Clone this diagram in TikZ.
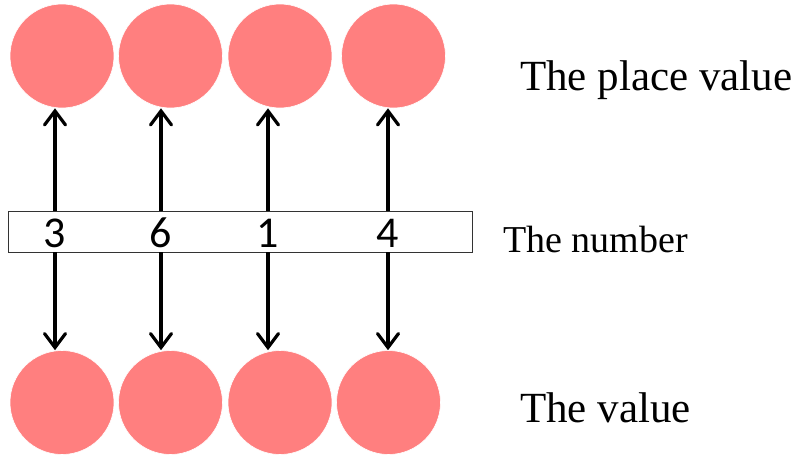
\documentclass[tikz,border=0pt]{standalone}
\usepackage{fontspec}
\setmainfont{Liberation Serif}
\newfontfamily\digitfont{Carlito}
\usetikzlibrary{arrows.meta}
\definecolor{ballred}{HTML}{FF7F7F}
\tikzset{
  ball/.style={circle, fill=ballred, draw=white, line width=0.6pt, minimum size=104pt, inner sep=0pt},
  digit/.style={font=\digitfont\fontsize{44}{44}\selectfont, inner sep=0pt},
  caption/.style={font=\fontsize{43}{43}\selectfont, anchor=base west, inner sep=0pt},
  link/.style={line width=3.2pt, -{Straight Barb[length=14pt, width=21pt, line cap=round]}}
}
\begin{document}
\begin{tikzpicture}[x=1pt, y=-1pt]
\useasboundingbox (0,0) rectangle (805,455);
% place value row
\node[ball] (t1) at (62,56) {};
\node[ball] (t2) at (170.5,56) {};
\node[ball] (t3) at (280,56) {};
\node[ball] (t4) at (393.5,56) {};
% value row
\node[ball] (b1) at (62,402.5) {};
\node[ball] (b2) at (170.5,402.5) {};
\node[ball] (b3) at (280,402.5) {};
\node[ball] (b4) at (388.5,402.5) {};
% the number
\node[draw=black!80, line width=0.8pt, minimum width=464pt, minimum height=41pt, inner sep=0pt] (num) at (240,231.5) {};
\node[digit] (d1) at (55,233) {3};
\node[digit] (d2) at (161,233) {6};
\node[digit] (d3) at (268,233) {1};
\node[digit] (d4) at (388,233) {4};
% arrows
\draw[link] (d1 |- num.north) -- (d1 |- t1.south);
\draw[link] (d2 |- num.north) -- (d2 |- t2.south);
\draw[link] (d3 |- num.north) -- (d3 |- t3.south);
\draw[link] (d4 |- num.north) -- (d4 |- t4.south);
\draw[link] (d1 |- num.south) -- (d1 |- b1.north);
\draw[link] (d2 |- num.south) -- (d2 |- b2.north);
\draw[link] (d3 |- num.south) -- (d3 |- b3.north);
\draw[link] (d4 |- num.south) -- (d4 |- b4.north);
% labels
\node[caption] (pv) at (520,90) {The place value};
\node[caption, font=\fontsize{38}{38}\selectfont] (tn) at (503,252) {The number};
\node[caption] (tv) at (520,422) {The value};
\end{tikzpicture}
\end{document}
